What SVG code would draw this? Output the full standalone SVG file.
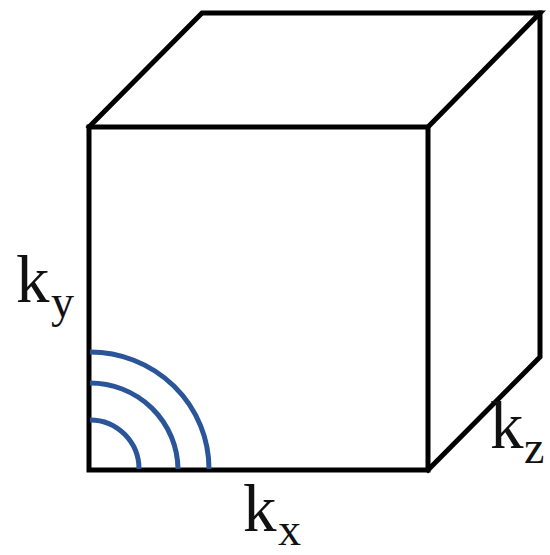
<svg xmlns="http://www.w3.org/2000/svg" width="550" height="555" viewBox="0 0 550 555">
<style>
.edge{fill:none;stroke:#000;stroke-width:5;stroke-linejoin:miter;stroke-linecap:square}
.arc{fill:none;stroke:#2a5599;stroke-width:5}
.lbl{font-family:"Liberation Serif","Times New Roman",serif;fill:#111}
.main{font-size:67px}
.sub{font-size:46px}
</style>
<rect width="550" height="555" fill="#fff"/>
<g id="cube">
<rect class="edge" x="89" y="127" width="339" height="343"/>
<polyline class="edge" points="89,127 202,13 540,13 428,127"/>
<polyline class="edge" points="540,13 540,357 428,470"/>
</g>
<g id="waves">
<path class="arc" d="M90,420 A49,49 0 0 1 139,469"/>
<path class="arc" d="M90,383 A88,87 0 0 1 178,469"/>
<path class="arc" d="M90,352 A119,117 0 0 1 209,469"/>
</g>
<g id="label-ky">
<text class="lbl main" x="16" y="302">k</text>
<text class="lbl sub" x="51" y="317">y</text>
</g>
<g id="label-kx">
<text class="lbl main" x="243" y="531">k</text>
<text class="lbl sub" x="278" y="545">x</text>
</g>
<g id="label-kz">
<text class="lbl main" x="490" y="448">k</text>
<text class="lbl sub" x="524" y="463">z</text>
</g>
</svg>
